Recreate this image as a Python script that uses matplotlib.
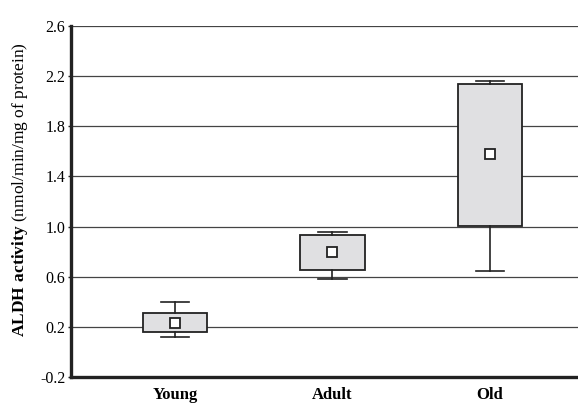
import matplotlib
matplotlib.use("Agg")
import matplotlib.pyplot as plt

categories = ["Young", "Adult", "Old"]
whisker_low = [0.12, 0.58, 0.645]
q1 = [0.155, 0.655, 1.005]
mean = [0.23, 0.80, 1.575]
q3 = [0.31, 0.935, 2.14]
whisker_high = [0.40, 0.955, 2.16]
yticks = [-0.2, 0.2, 0.6, 1.0, 1.4, 1.8, 2.2, 2.6]

plt.rcParams['font.family'] = ['Liberation Serif', 'DejaVu Serif']
plt.rcParams['mathtext.fontset'] = 'custom'
plt.rcParams['mathtext.rm'] = 'Liberation Serif'
plt.rcParams['mathtext.bf'] = 'Liberation Serif:bold'

fig = plt.figure(figsize=(5.78, 4.04), dpi=100)
ax = fig.add_axes([71/578, 27/404, 1 - 71/578, (377-26)/404])

stats = []
for i, c in enumerate(categories):
    stats.append(dict(label=c, whislo=whisker_low[i], q1=q1[i], med=mean[i],
                      q3=q3[i], whishi=whisker_high[i], mean=mean[i]))

pos = list(range(len(categories)))
ax.bxp(stats, positions=pos, widths=0.41, capwidths=0.18, patch_artist=True,
       showmeans=True, showfliers=False,
       boxprops=dict(facecolor='#e0e0e2', edgecolor='#222222', linewidth=1.3),
       whiskerprops=dict(color='#222222', linewidth=1.2),
       capprops=dict(color='#222222', linewidth=1.2),
       medianprops=dict(linestyle='none', linewidth=0),
       meanprops=dict(marker='s', markerfacecolor='white', markeredgecolor='#222222',
                      markersize=7.5, markeredgewidth=1.3),
       zorder=3)

ax.set_ylim(-0.2, 2.6)
ax.set_xlim(-0.66, 2.56)
ax.set_yticks(yticks)
ax.set_yticklabels([f"{v:.1f}" for v in yticks], fontsize=11.5)
ax.set_xticks(pos)
ax.set_xticklabels(categories, fontsize=12, fontweight='bold')
ax.tick_params(axis='x', length=0, pad=7)
ax.tick_params(axis='y', length=2, width=1, color='#222222', pad=2)

for v in yticks[1:]:
    ax.axhline(v, color='#444444', linewidth=0.9, zorder=1)

for s in ['top', 'right']:
    ax.spines[s].set_visible(False)
ax.spines['left'].set_linewidth(2.4)
ax.spines['bottom'].set_linewidth(2.4)
ax.spines['left'].set_color('#222222')
ax.spines['bottom'].set_color('#222222')

ax.set_ylabel(r"$\mathbf{ALDH\ activity}$ (nmol/min/mg of protein)", fontsize=12.5)
ax.yaxis.set_label_coords(-0.080, 0.535)

fig.savefig("out.png", dpi=100)
